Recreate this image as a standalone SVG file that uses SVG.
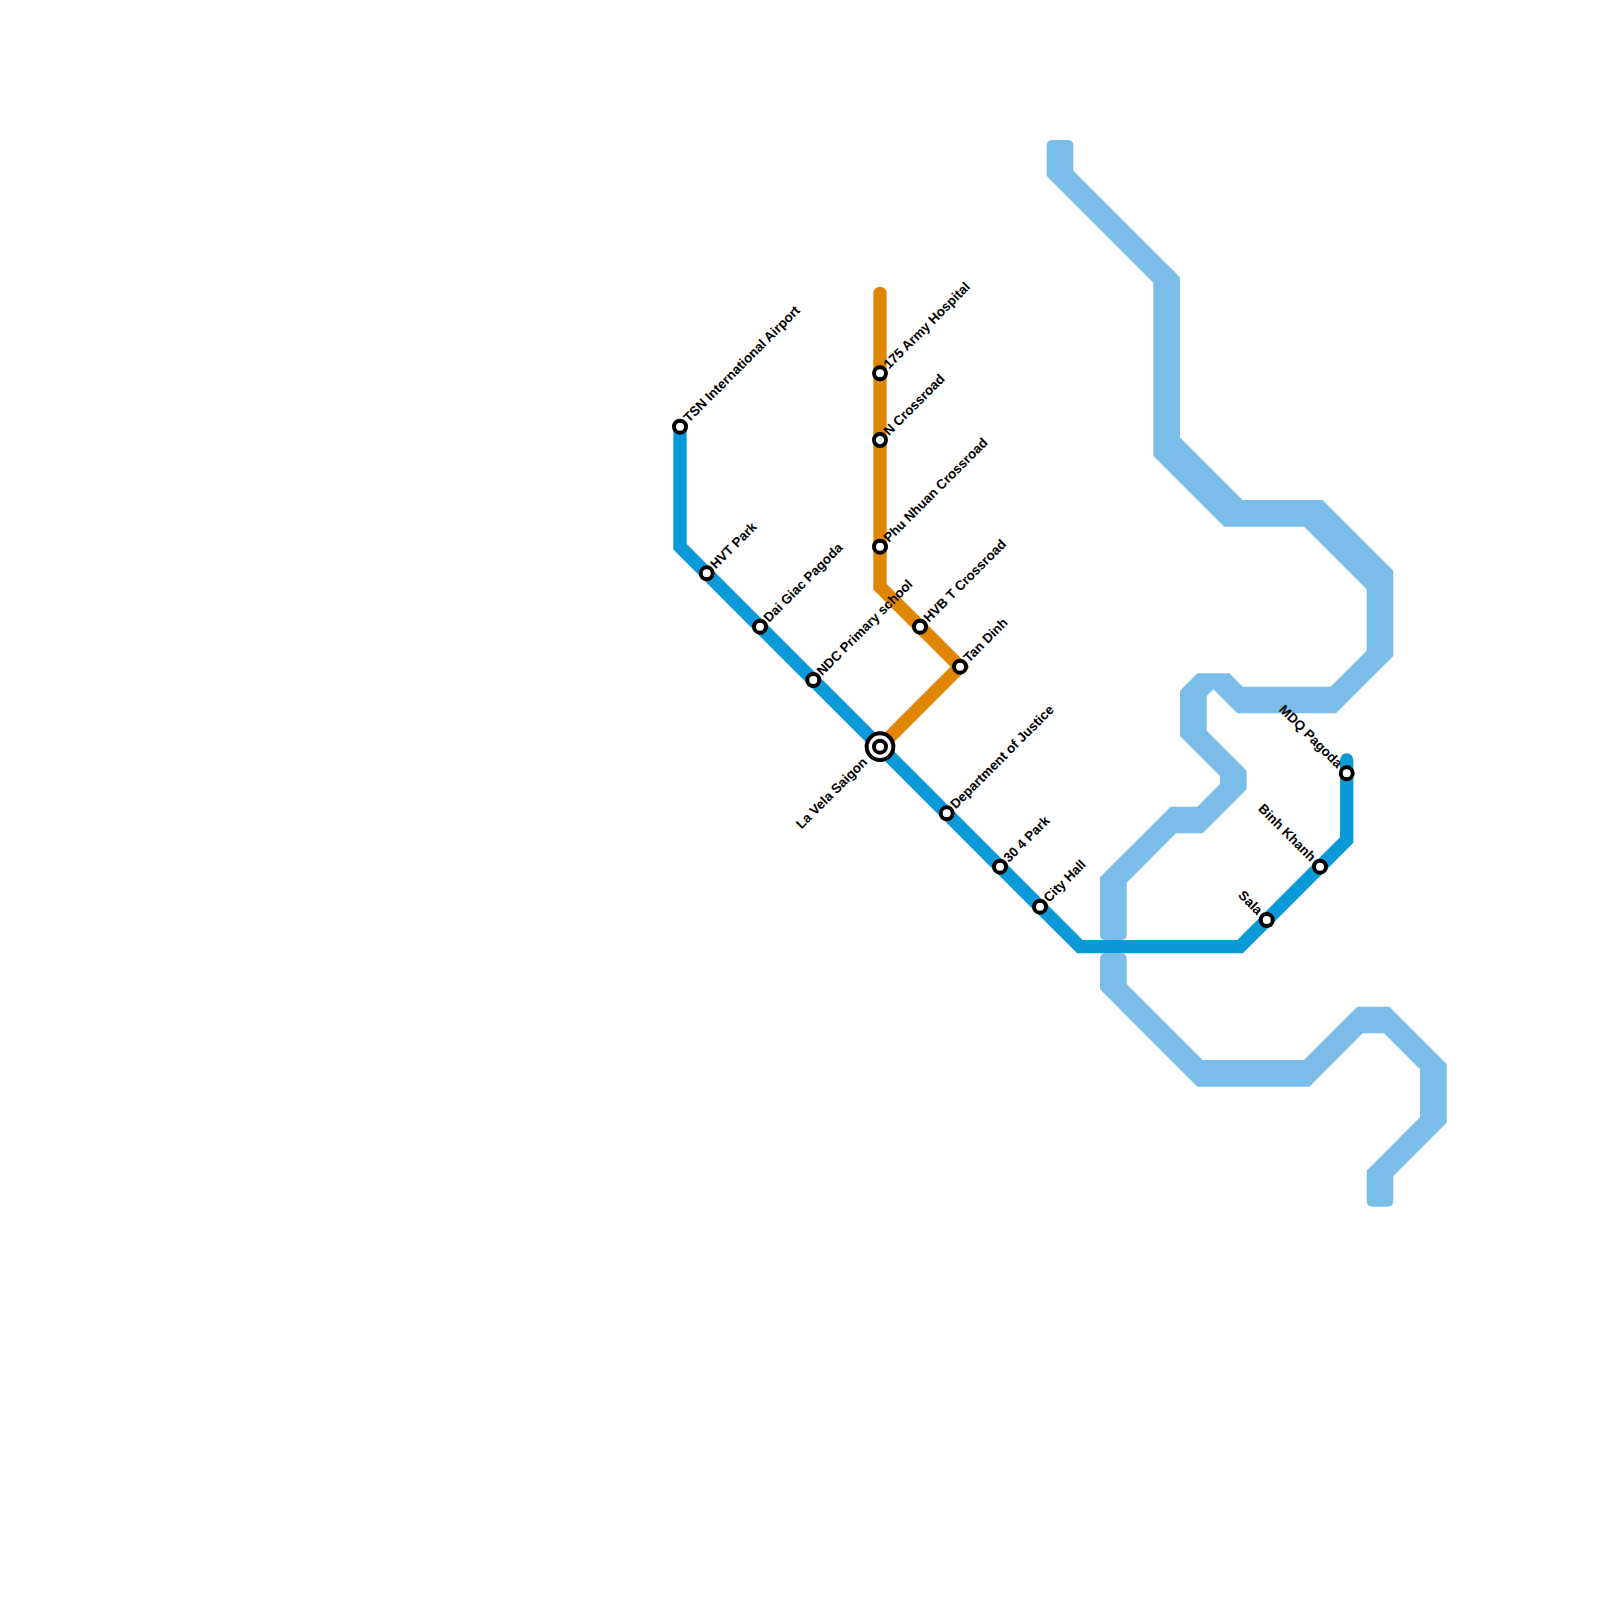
<svg xmlns="http://www.w3.org/2000/svg" width="1600" height="1600" viewBox="0 0 1600 1600">
<style>
.l{fill:none;stroke-linejoin:miter;stroke-linecap:round}
.b{stroke:#0a9ad9;stroke-width:13.33}
.o{stroke:#e08600;stroke-width:13.33}
.c{fill:#7bbde9;stroke:none}
.s{fill:#fff;stroke:#000;stroke-width:4}
text{font-family:"Liberation Sans",Arial,sans-serif;font-size:13.33px;font-weight:bold;fill:#000}
.e{text-anchor:end}
</style>
<rect width="1600" height="1600" fill="#fff"/>
<g id="connectors">
<path class="c" d="M1067.67 140Q1073.33 140 1073.33 145.67V170.67L1180 277.33V437.5L1242.5 500H1322.5L1393.33 570.83V656L1336 713.33H1237.33L1213.33 689.33L1206.67 696V730.67L1246.67 770.67V789.33L1202.67 833.33H1176L1126.67 882.67V934.67Q1126.67 940 1121 940H1105.67Q1100 940 1100 934.67V877.33L1170.67 806.67H1197.33L1220 784V776L1180 736V690.67L1197.33 673.33H1229.33L1242.67 686.67H1330.67L1366.67 650.67V589.17L1304.17 526.67H1224.17L1153.33 455.83V282.67L1046.67 176V145.67Q1046.67 140 1052.33 140Z"/>
<path class="c" d="M1121 953.33Q1126.67 953.33 1126.67 959V984L1202.67 1060H1304L1357.33 1006.67H1389.33L1446.67 1064V1122.67L1393.33 1176V1201Q1393.33 1206.67 1387.67 1206.67H1372.33Q1366.67 1206.67 1366.67 1201V1170.67L1420 1117.33V1069.33L1384 1033.33H1362.67L1309.33 1086.67H1197.33L1100 989.33V959Q1100 953.33 1105.67 953.33Z"/>
<path class="l b" d="M680 426.7V546.7L1080 946.7H1240L1346.7 840V760"/>
<path class="l o" d="M880 293.3V586.7L960 666.7L880 746.7"/>
</g>
<g id="tsn"><circle class="s" cx="680" cy="426.7" r="6"/><text transform="translate(689 423) rotate(-45)">TSN International Airport</text></g>
<g id="hvt-park"><circle class="s" cx="706.7" cy="573.3" r="6"/><text transform="translate(715.7 569.6) rotate(-45)">HVT Park</text></g>
<g id="dai-giac"><circle class="s" cx="760" cy="626.7" r="6"/><text transform="translate(769 623) rotate(-45)">Dai Giac Pagoda</text></g>
<g id="ndc"><circle class="s" cx="813.3" cy="680" r="6"/><text transform="translate(822.3 676.3) rotate(-45)">NDC Primary school</text></g>
<g id="la-vela"><circle class="s" cx="880" cy="746.7" r="13.33"/><circle class="s" cx="880" cy="746.7" r="6"/><text class="e" transform="translate(868 763) rotate(-45)">La Vela Saigon</text></g>
<g id="dept-justice"><circle class="s" cx="946.7" cy="813.3" r="6"/><text transform="translate(955.7 809.6) rotate(-45)">Department of Justice</text></g>
<g id="park-30-4"><circle class="s" cx="1000" cy="866.7" r="6"/><text transform="translate(1009 863) rotate(-45)">30 4 Park</text></g>
<g id="city-hall"><circle class="s" cx="1040" cy="906.7" r="6"/><text transform="translate(1049 903) rotate(-45)">City Hall</text></g>
<g id="sala"><circle class="s" cx="1266.7" cy="920" r="6"/><text class="e" transform="translate(1257 915.5) rotate(45)">Sala</text></g>
<g id="binh-khanh"><circle class="s" cx="1320" cy="866.7" r="6"/><text class="e" transform="translate(1310.3 862.2) rotate(45)">Binh Khanh</text></g>
<g id="mdq"><circle class="s" cx="1346.7" cy="773.3" r="6"/><text class="e" transform="translate(1337 768.8) rotate(45)">MDQ Pagoda</text></g>
<g id="army-175"><circle class="s" cx="880" cy="373.3" r="6"/><text transform="translate(889 369.6) rotate(-45)">175 Army Hospital</text></g>
<g id="n-crossroad"><circle class="s" cx="880" cy="440" r="6"/><text transform="translate(889 436.3) rotate(-45)">N Crossroad</text></g>
<g id="phu-nhuan"><circle class="s" cx="880" cy="546.7" r="6"/><text transform="translate(889 543) rotate(-45)">Phu Nhuan Crossroad</text></g>
<g id="hvb-t"><circle class="s" cx="920" cy="626.7" r="6"/><text transform="translate(929 623) rotate(-45)">HVB T Crossroad</text></g>
<g id="tan-dinh"><circle class="s" cx="960" cy="666.7" r="6"/><text transform="translate(969 663) rotate(-45)">Tan Dinh</text></g>
</svg>
